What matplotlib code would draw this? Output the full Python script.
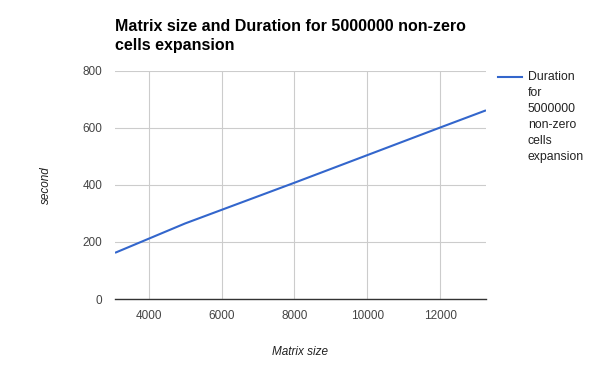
import matplotlib.pyplot as plt
from matplotlib.lines import Line2D

# data
matrix_size = [3080, 5000, 8000, 10000, 12000, 13250]
duration = [162, 265, 408, 505, 602, 662]
x_ticks = [4000, 6000, 8000, 10000, 12000]
y_ticks = [0, 200, 400, 600, 800]
legend_label = "Duration\nfor\n5000000\nnon-zero\ncells\nexpansion"

plt.rcParams['font.family'] = ['Liberation Sans', 'DejaVu Sans']

fig = plt.figure(figsize=(6, 3.71), dpi=100)
ax = fig.add_axes([115/600, 72/371, 371/600, 228/371])

ax.plot(matrix_size, duration, color='#3366cc', linewidth=1.5, solid_capstyle='butt')

ax.set_xlim(matrix_size[0], matrix_size[-1])
ax.set_ylim(0, 800)
ax.set_xticks(x_ticks)
ax.set_yticks(y_ticks)
ax.grid(True, color='#cccccc', linewidth=0.8)
ax.set_axisbelow(True)
for s in ['top', 'right', 'left']:
    ax.spines[s].set_visible(False)
ax.spines['bottom'].set_color('#333333')
ax.spines['bottom'].set_linewidth(1.0)
ax.spines['bottom'].set_zorder(3)
ax.tick_params(length=0, labelsize=8.5, labelcolor='#444444')
ax.tick_params(axis='x', pad=8)
ax.tick_params(axis='y', pad=9)

ax.set_xlabel('Matrix size', fontsize=8.5, style='italic', color='#222222', labelpad=17)
ax.set_ylabel('second', fontsize=8.5, style='italic', color='#222222', labelpad=22)

fig.text(115/600, 1 - 19/371, 'Matrix size and Duration for 5000000 non-zero\ncells expansion',
         fontsize=11.5, fontweight='bold', color='#000000', ha='left', va='top',
         linespacing=1.35)

# legend key drawn by hand so it sits on the first line of text
fig.add_artist(Line2D([498/600, 522/600], [1 - 77/371, 1 - 77/371],
                      color='#3366cc', linewidth=1.5, transform=fig.transFigure))
fig.text(528/600, 1 - 71/371, legend_label, fontsize=8.8, color='#222222',
         ha='left', va='top', linespacing=1.45)

fig.savefig('out.png', dpi=100)
